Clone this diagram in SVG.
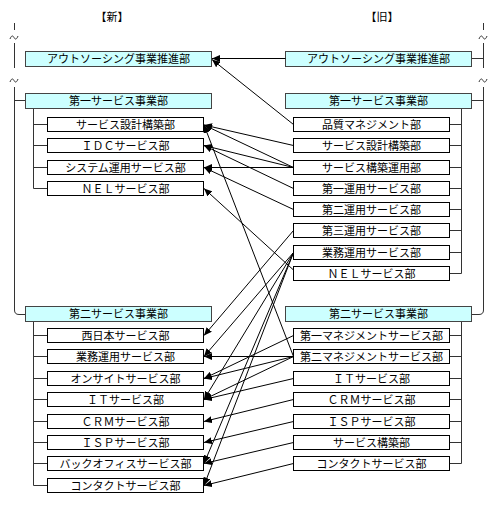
<svg xmlns="http://www.w3.org/2000/svg" width="500" height="507" viewBox="0 0 500 507">
<style>
text{font-family:"Noto Sans CJK JP","Noto Sans",sans-serif;font-size:11px;fill:#000;text-anchor:middle}
.main{fill:#ccffff;stroke:#444;stroke-width:1}
.sub{fill:#fff;stroke:#000;stroke-width:1}
.ln{fill:none;stroke:#000;stroke-width:1}
.tree{fill:none;stroke:#333;stroke-width:1}
.arr{fill:none;stroke:#000;stroke-width:1;marker-end:url(#ah)}
</style>
<defs>
<marker id="ah" markerUnits="userSpaceOnUse" markerWidth="9" markerHeight="7" refX="8" refY="3.5" orient="auto">
<path d="M0,0 L8,3.5 L0,7 z" fill="#000"/>
</marker>
</defs>
<rect width="500" height="507" fill="#fff"/>
<text x="112" y="21">【新】</text>
<text x="382" y="21">【旧】</text>

<g id="frame" class="tree">
<path d="M14.5,23 V30 M14.5,43 V68 M14.5,87 V310 Q14.5,314.5 19,314.5 H25.5 M14.5,100.5 H25.5"/>
<path d="M10,39 C11.5,35 13,35.5 14,37.5 S16.5,40 18,36"/>
<path d="M10,82 C11.5,78 13,78.5 14,80.5 S16.5,83 18,79"/>
<path d="M483.5,23 V30 M483.5,43 V68 M471.5,58.5 H483.5 M483.5,87 V310 Q483.5,314.5 479,314.5 H471.5 M471.5,100.5 H483.5"/>
<path d="M479,39 C480.5,35 482,35.5 483,37.5 S485.5,40 487,36"/>
<path d="M479,82 C480.5,78 482,78.5 483,80.5 S485.5,83 487,79"/>
<path d="M33.5,108.5 V188.5 M33.5,124.5 H47.5 M33.5,145.5 H47.5 M33.5,167.5 H47.5 M33.5,188.5 H47.5"/>
<path d="M33.5,321.5 V485.5 M33.5,335.5 H47.5 M33.5,356.5 H47.5 M33.5,378.5 H47.5 M33.5,399.5 H47.5 M33.5,421.5 H47.5 M33.5,442.5 H47.5 M33.5,463.5 H47.5 M33.5,485.5 H47.5"/>
<path d="M461.5,108.5 V273.5 M449.5,124.5 H461.5 M449.5,145.5 H461.5 M449.5,167.5 H461.5 M449.5,188.5 H461.5 M449.5,209.5 H461.5 M449.5,230.5 H461.5 M449.5,252.5 H461.5 M449.5,273.5 H461.5"/>
<path d="M461.5,321.5 V463.5 M449.5,335.5 H461.5 M449.5,356.5 H461.5 M449.5,378.5 H461.5 M449.5,399.5 H461.5 M449.5,421.5 H461.5 M449.5,442.5 H461.5 M449.5,463.5 H461.5"/>
</g>

<g id="new-outsourcing"><rect class="main" x="25.5" y="51.5" width="186" height="15"/><text x="118.5" y="63">アウトソーシング事業推進部</text></g>
<g id="new-svc1"><rect class="main" x="25.5" y="93.5" width="186" height="15"/><text x="118.5" y="105">第一サービス事業部</text></g>
<g id="new-design"><rect class="sub" x="47.5" y="117.5" width="156" height="14"/><text x="125.5" y="128.5">サービス設計構築部</text></g>
<g id="new-idc"><rect class="sub" x="47.5" y="138.5" width="156" height="14"/><text x="125.5" y="149.5">ＩＤＣサービス部</text></g>
<g id="new-sysops"><rect class="sub" x="47.5" y="160.5" width="156" height="14"/><text x="125.5" y="171.5">システム運用サービス部</text></g>
<g id="new-nel"><rect class="sub" x="47.5" y="181.5" width="156" height="14"/><text x="125.5" y="192.5">ＮＥＬサービス部</text></g>
<g id="new-svc2"><rect class="main" x="25.5" y="306.5" width="186" height="15"/><text x="118.5" y="318">第二サービス事業部</text></g>
<g id="new-west"><rect class="sub" x="47.5" y="328.5" width="156" height="14"/><text x="125.5" y="339.5">西日本サービス部</text></g>
<g id="new-bizops"><rect class="sub" x="47.5" y="349.5" width="156" height="14"/><text x="125.5" y="360.5">業務運用サービス部</text></g>
<g id="new-onsite"><rect class="sub" x="47.5" y="371.5" width="156" height="14"/><text x="125.5" y="382.5">オンサイトサービス部</text></g>
<g id="new-it"><rect class="sub" x="47.5" y="392.5" width="156" height="14"/><text x="125.5" y="403.5">ＩＴサービス部</text></g>
<g id="new-crm"><rect class="sub" x="47.5" y="414.5" width="156" height="14"/><text x="125.5" y="425.5">ＣＲＭサービス部</text></g>
<g id="new-isp"><rect class="sub" x="47.5" y="435.5" width="156" height="14"/><text x="125.5" y="446.5">ＩＳＰサービス部</text></g>
<g id="new-backoffice"><rect class="sub" x="47.5" y="456.5" width="156" height="14"/><text x="125.5" y="467.5">バックオフィスサービス部</text></g>
<g id="new-contact"><rect class="sub" x="47.5" y="478.5" width="156" height="14"/><text x="125.5" y="489.5">コンタクトサービス部</text></g>

<g id="old-outsourcing"><rect class="main" x="285.5" y="51.5" width="186" height="15"/><text x="378.5" y="63">アウトソーシング事業推進部</text></g>
<g id="old-svc1"><rect class="main" x="285.5" y="93.5" width="186" height="15"/><text x="378.5" y="105">第一サービス事業部</text></g>
<g id="old-quality"><rect class="sub" x="293.5" y="117.5" width="156" height="14"/><text x="371.5" y="128.5">品質マネジメント部</text></g>
<g id="old-design"><rect class="sub" x="293.5" y="138.5" width="156" height="14"/><text x="371.5" y="149.5">サービス設計構築部</text></g>
<g id="old-buildops"><rect class="sub" x="293.5" y="160.5" width="156" height="14"/><text x="371.5" y="171.5">サービス構築運用部</text></g>
<g id="old-ops1"><rect class="sub" x="293.5" y="181.5" width="156" height="14"/><text x="371.5" y="192.5">第一運用サービス部</text></g>
<g id="old-ops2"><rect class="sub" x="293.5" y="202.5" width="156" height="14"/><text x="371.5" y="213.5">第二運用サービス部</text></g>
<g id="old-ops3"><rect class="sub" x="293.5" y="223.5" width="156" height="14"/><text x="371.5" y="234.5">第三運用サービス部</text></g>
<g id="old-bizops"><rect class="sub" x="293.5" y="245.5" width="156" height="14"/><text x="371.5" y="256.5">業務運用サービス部</text></g>
<g id="old-nel"><rect class="sub" x="293.5" y="266.5" width="156" height="14"/><text x="371.5" y="277.5">ＮＥＬサービス部</text></g>
<g id="old-svc2"><rect class="main" x="285.5" y="306.5" width="186" height="15"/><text x="378.5" y="318">第二サービス事業部</text></g>
<g id="old-mgmt1"><rect class="sub" x="293.5" y="328.5" width="156" height="14"/><text x="371.5" y="339.5">第一マネジメントサービス部</text></g>
<g id="old-mgmt2"><rect class="sub" x="293.5" y="349.5" width="156" height="14"/><text x="371.5" y="360.5">第二マネジメントサービス部</text></g>
<g id="old-it"><rect class="sub" x="293.5" y="371.5" width="156" height="14"/><text x="371.5" y="382.5">ＩＴサービス部</text></g>
<g id="old-crm"><rect class="sub" x="293.5" y="392.5" width="156" height="14"/><text x="371.5" y="403.5">ＣＲＭサービス部</text></g>
<g id="old-isp"><rect class="sub" x="293.5" y="414.5" width="156" height="14"/><text x="371.5" y="425.5">ＩＳＰサービス部</text></g>
<g id="old-build"><rect class="sub" x="293.5" y="435.5" width="156" height="14"/><text x="371.5" y="446.5">サービス構築部</text></g>
<g id="old-contact"><rect class="sub" x="293.5" y="456.5" width="156" height="14"/><text x="371.5" y="467.5">コンタクトサービス部</text></g>

<g id="connectors">
<path class="arr" d="M285.5,58.5 L212,58.5"/>
<path class="arr" d="M293.5,124.5 L212,59.5"/>
<path class="arr" d="M293.5,145.5 L204,125"/>
<path class="arr" d="M293.5,167.5 L204,125"/>
<path class="arr" d="M293.5,167.5 L204,145.5"/>
<path class="arr" d="M293.5,167.5 L204,167.5"/>
<path class="arr" d="M293.5,188.5 L204,145.5"/>
<path class="arr" d="M293.5,209.5 L204,167.5"/>
<path class="arr" d="M293.5,270 L204,188.5"/>
<path class="arr" d="M293.5,356.5 L204,125"/>
<path class="arr" d="M293.5,230.5 L204,335.5"/>
<path class="arr" d="M293.5,252.5 L204,356.5"/>
<path class="arr" d="M293.5,252.5 L204,399.5"/>
<path class="arr" d="M293.5,252.5 L204,463.5"/>
<path class="arr" d="M293.5,252.5 L204,485.5"/>
<path class="arr" d="M293.5,335.5 L204,378.5"/>
<path class="arr" d="M293.5,356.5 L204,356.5"/>
<path class="arr" d="M293.5,356.5 L204,378.5"/>
<path class="arr" d="M293.5,356.5 L204,399.5"/>
<path class="arr" d="M293.5,378.5 L204,399.5"/>
<path class="arr" d="M293.5,399.5 L204,421.5"/>
<path class="arr" d="M293.5,421.5 L204,442.5"/>
<path class="arr" d="M293.5,442.5 L204,463.5"/>
<path class="arr" d="M293.5,463.5 L204,485.5"/>
</g>
</svg>
